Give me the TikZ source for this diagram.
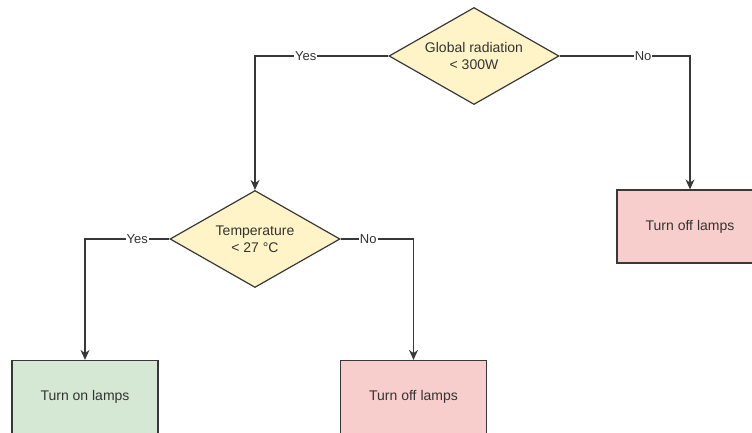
\documentclass[tikz,border=0pt]{standalone}
\usepackage{fontspec}
\setmainfont{Liberation Sans}
\usetikzlibrary{shapes.geometric,arrows.meta}
\definecolor{decfill}{HTML}{FFF4C8}
\definecolor{greenfill}{HTML}{D5E8D4}
\definecolor{pinkfill}{HTML}{F8CECC}
\definecolor{linec}{HTML}{383838}
\definecolor{textc}{HTML}{333333}
\tikzset{
  decision/.style={shape=diamond, draw=linec, line width=1.2pt, fill=decfill,
    minimum width=170pt, minimum height=97pt, inner sep=0pt, aspect=1.75,
    align=center, text=textc, font=\fontsize{14}{17}\selectfont},
  actbox/.style={shape=rectangle, draw=linec, line width=1.2pt,
    minimum width=146pt, minimum height=73pt, inner sep=0pt,
    text=textc, font=\fontsize{14}{17}\selectfont},
  conn/.style={draw=linec, line width=1.2pt, -{Stealth[length=10pt,width=9pt]}},
  lbl/.style={fill=white, inner sep=1pt, text=textc, font=\fontsize{13}{15}\selectfont}
}
\begin{document}
\begin{tikzpicture}[x=1pt,y=-1pt]
\useasboundingbox (0,0) rectangle (752,433);
\clip (0,0) rectangle (752,433);
\node[decision] (d1) at (474,56) {Global radiation\\< 300W};
\node[decision] (d2) at (255,239) {Temperature\\< 27 °C};
\node[actbox, fill=greenfill] (b1) at (85,397) {Turn on lamps};
\node[actbox, fill=pinkfill] (b2) at (413.5,397) {Turn off lamps};
\node[actbox, fill=pinkfill] (b3) at (690,226.5) {Turn off lamps};
\draw[conn] (d1.west) -| node[lbl, pos=0.31] {Yes} (d2.north);
\draw[conn] (d1.east) -| node[lbl, pos=0.32] {No} (b3.north);
\draw[conn] (d2.west) -| node[lbl, pos=0.19] {Yes} (b1.north);
\draw[conn] (d2.east) -| node[lbl, pos=0.19] {No} (b2.north);
\end{tikzpicture}
\end{document}
